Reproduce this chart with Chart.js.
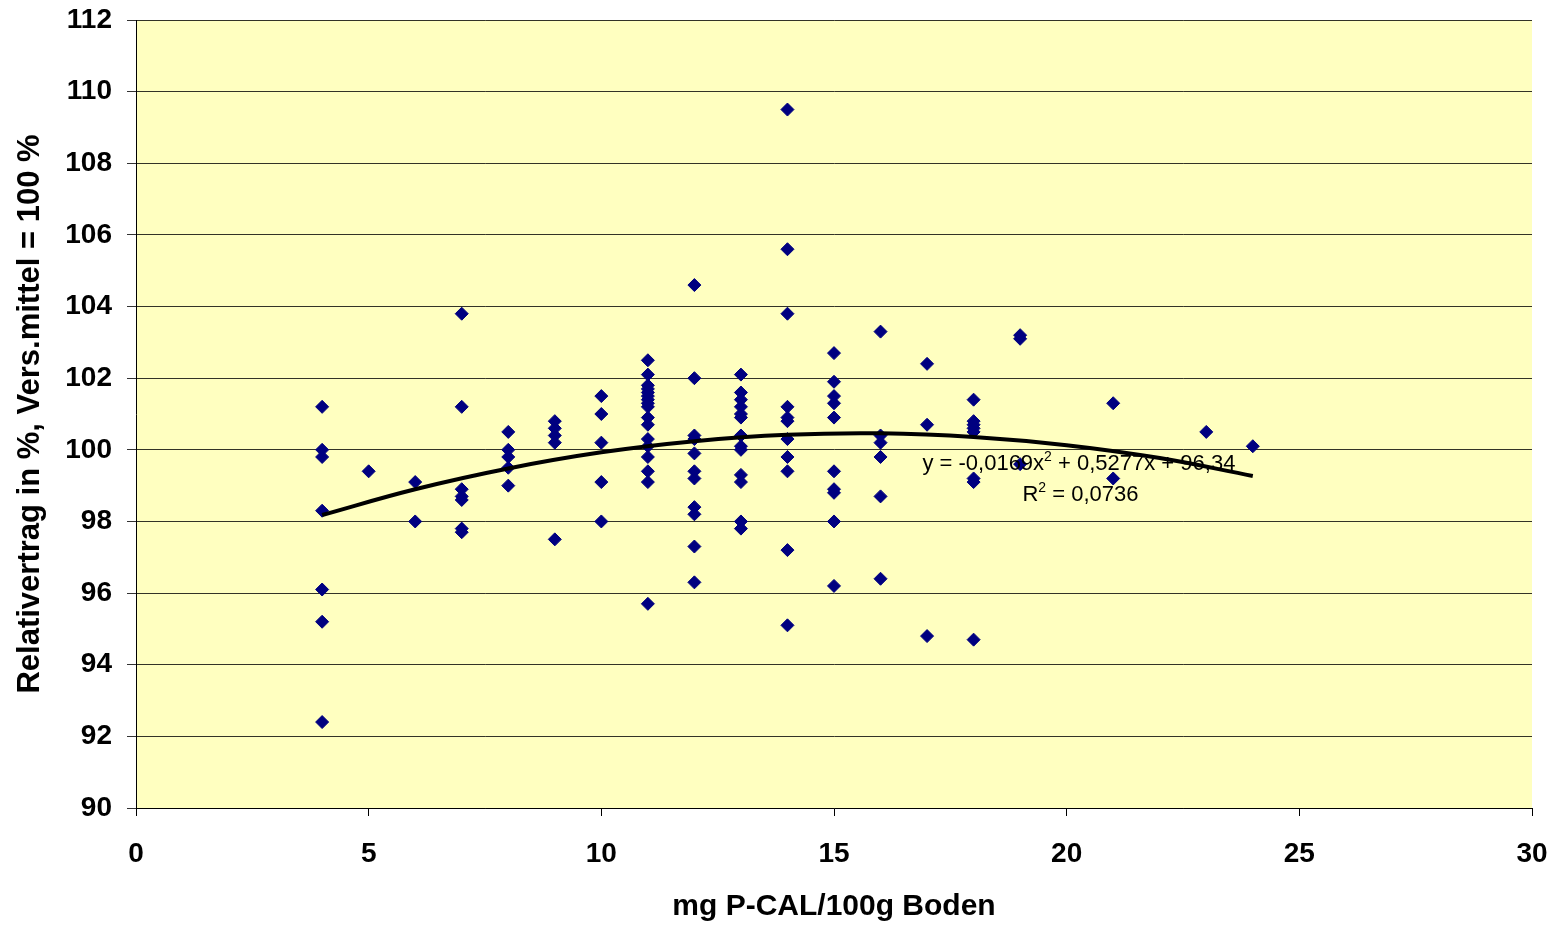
<!DOCTYPE html>
<html>
<head>
<meta charset="utf-8">
<script src="https://cdn.jsdelivr.net/npm/chart.js@4/dist/chart.umd.min.js"></script>
<style>
  html, body { margin: 0; padding: 0; background: #fff; }
  #wrap { width: 1557px; height: 926px; position: relative; }
</style>
</head>
<body>
<div id="wrap"><canvas id="chart"></canvas></div>
<script>
// P-Gehalt (mg P-CAL/100g Boden) und Relativerträge je Stufe
const pLevels = [4, 5, 6, 7, 8, 9, 10, 11, 12, 13, 14, 15, 16, 17, 18, 19, 21, 23, 24];
const ertragJeStufe = [
  [101.2, 100.0, 99.8, 98.3, 96.1, 95.2, 92.4],
  [99.4],
  [99.1, 98.0],
  [103.8, 101.2, 98.9, 98.7, 98.6, 97.8, 97.7],
  [100.5, 100.0, 99.8, 99.5, 99.0],
  [100.8, 100.6, 100.4, 100.2, 97.5],
  [101.5, 101.0, 100.2, 99.1, 98.0],
  [102.5, 102.1, 101.8, 101.7, 101.6, 101.5, 101.4, 101.3, 101.2, 100.9, 100.7, 100.3, 100.1, 99.8, 99.4, 99.1, 95.7],
  [104.6, 102.0, 100.4, 100.3, 99.9, 99.4, 99.2, 98.4, 98.2, 97.3, 96.3],
  [102.1, 101.6, 101.4, 101.2, 101.0, 100.9, 100.4, 100.1, 100.0, 99.3, 99.1, 98.0, 97.8],
  [109.5, 105.6, 103.8, 101.2, 100.9, 100.8, 100.3, 99.8, 99.4, 97.2, 95.1],
  [102.7, 101.9, 101.5, 101.3, 100.9, 99.4, 98.9, 98.8, 98.0, 96.2],
  [103.3, 100.4, 100.2, 99.8, 98.7, 96.4],
  [102.4, 100.7, 94.8],
  [101.4, 100.8, 100.7, 100.6, 100.5, 99.2, 99.1, 94.7],
  [103.2, 103.1, 99.6],
  [101.3, 99.2],
  [100.5],
  [100.1]
];

// Trendlinie (Polynom 2. Grades)
const trendX = [4, 6, 8, 10, 12, 14, 16, 18, 20, 22, 24];
const trendY = [98.18, 98.90, 99.48, 99.93, 100.24, 100.42, 100.46, 100.36, 100.13, 99.77, 99.27];

const xTicks = [0, 5, 10, 15, 20, 25, 30];
const yTicks = [90, 92, 94, 96, 98, 100, 102, 104, 106, 108, 110, 112];

const gleichung = ["y = -0,0169x", "2", " + 0,5277x + 96,34"];
const bestimmtheit = ["R", "2", " = 0,0736"];

const FONT = "'Liberation Sans', Arial, sans-serif";

const punkte = [];
pLevels.forEach((p, i) => {
  ertragJeStufe[i].forEach(v => punkte.push({ x: p, y: v }));
});
const trend = trendX.map((x, i) => ({ x: x, y: trendY[i] }));

// gelber Hintergrund der Zeichnungsfläche
const plotBg = {
  id: 'plotBg',
  beforeDraw(chart) {
    const { ctx, chartArea: a } = chart;
    ctx.save();
    ctx.fillStyle = '#FFFFC0';
    ctx.fillRect(a.left, a.top, a.right - a.left, a.bottom - a.top);
    ctx.restore();
  }
};

// Gleichung + R² mit hochgestellter 2
function drawSup(ctx, parts, x, y, size) {
  ctx.font = `${size}px ${FONT}`;
  ctx.fillText(parts[0], x, y);
  x += ctx.measureText(parts[0]).width;
  ctx.font = `${Math.round(size * 0.62)}px ${FONT}`;
  ctx.fillText(parts[1], x, y - size * 0.42);
  x += ctx.measureText(parts[1]).width;
  ctx.font = `${size}px ${FONT}`;
  ctx.fillText(parts[2], x, y);
}

const trendLabel = {
  id: 'trendLabel',
  afterDatasetsDraw(chart) {
    const { ctx, scales: { x, y } } = chart;
    ctx.save();
    ctx.fillStyle = '#000';
    ctx.textBaseline = 'alphabetic';
    drawSup(ctx, gleichung, x.getPixelForValue(16.9), y.getPixelForValue(99.43), 22);
    drawSup(ctx, bestimmtheit, x.getPixelForValue(19.05), y.getPixelForValue(98.57), 22);
    ctx.restore();
  }
};

new Chart(document.getElementById('chart'), {
  type: 'scatter',
  data: {
    datasets: [
      {
        label: 'Polynomisch',
        type: 'line',
        data: trend,
        borderColor: '#000',
        borderWidth: 4,
        pointRadius: 0,
        tension: 0.4,
        fill: false
      },
      {
        label: 'Relativertrag',
        data: punkte,
        pointStyle: 'rectRot',
        pointRadius: 6.5,
        pointBackgroundColor: '#000080',
        pointBorderColor: '#000080',
        pointBorderWidth: 1
      }
    ]
  },
  options: {
    responsive: true,
    maintainAspectRatio: false,
    animation: false,
    layout: { padding: { top: 20, right: 25, bottom: 0, left: 0 } },
    plugins: {
      legend: { display: false },
      tooltip: { enabled: false }
    },
    scales: {
      x: {
        type: 'linear',
        min: 0, max: 30,
        afterBuildTicks: s => { s.ticks = xTicks.map(v => ({ value: v })); },
        afterFit: s => { s.height = 118; s.paddingLeft = 0; s.paddingRight = 0; },
        border: { color: '#000', width: 1 },
        grid: { drawOnChartArea: false, drawTicks: true, tickLength: 8, color: '#000' },
        ticks: { color: '#000', padding: 21, font: { family: FONT, size: 28, weight: 'bold' } },
        title: {
          display: true, text: 'mg P-CAL/100g Boden', color: '#000',
          padding: { top: 0, bottom: 1 },
          font: { family: FONT, size: 30, weight: 'bold' }
        }
      },
      y: {
        min: 90, max: 112,
        afterBuildTicks: s => { s.ticks = yTicks.map(v => ({ value: v })); },
        afterFit: s => { s.width = 136; s.paddingTop = 0; s.paddingBottom = 0; },
        border: { color: '#000', width: 1 },
        grid: { color: 'rgba(0,0,0,0.8)', lineWidth: 1, tickLength: 9 },
        ticks: { color: '#000', padding: 15, font: { family: FONT, size: 28, weight: 'bold' } },
        title: {
          display: true, text: 'Relativertrag in %, Vers.mittel = 100 %', color: '#000',
          padding: { top: 12, bottom: 0 },
          font: { family: FONT, size: 31, weight: 'bold' }
        }
      }
    }
  },
  plugins: [plotBg, trendLabel]
});
</script>
</body>
</html>
